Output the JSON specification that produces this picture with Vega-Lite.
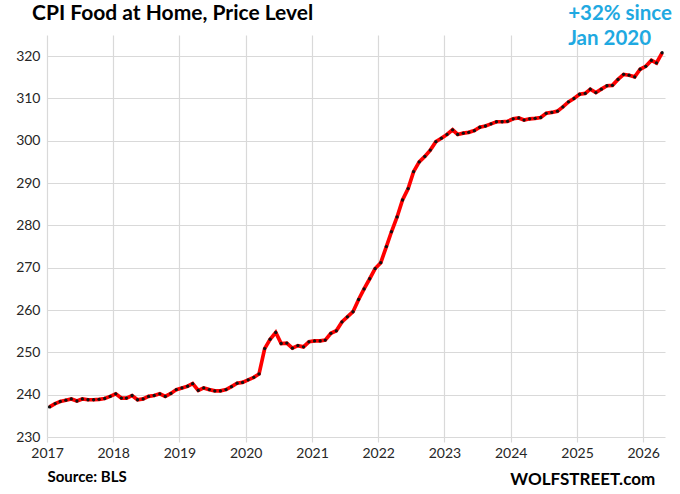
{
  "$schema": "https://vega.github.io/schema/vega-lite/v6.json",
  "width": 618,
  "height": 402,
  "autosize": {"type": "none"},
  "padding": {"left": 47, "top": 35, "right": 15, "bottom": 57},
  "background": "white",
  "config": {"font": "Lato", "view": {"stroke": null}},
  "title": {
    "text": "CPI Food at Home, Price Level",
    "anchor": "start",
    "frame": "group",
    "orient": "top",
    "dx": -15,
    "offset": -20,
    "fontSize": 21,
    "fontWeight": "bold",
    "color": "#000000",
    "font": "Lato"
  },
  "layer": [
    {
      "data": {
        "values": [
          {"date": "2017-01-15", "value": 237.1}, {"date": "2017-02-15", "value": 237.9}, {"date": "2017-03-15", "value": 238.4},
          {"date": "2017-04-15", "value": 238.7}, {"date": "2017-05-15", "value": 239.0}, {"date": "2017-06-15", "value": 238.5},
          {"date": "2017-07-15", "value": 239.0}, {"date": "2017-08-15", "value": 238.8}, {"date": "2017-09-15", "value": 238.8},
          {"date": "2017-10-15", "value": 238.9}, {"date": "2017-11-15", "value": 239.1}, {"date": "2017-12-15", "value": 239.6},
          {"date": "2018-01-15", "value": 240.2}, {"date": "2018-02-15", "value": 239.2}, {"date": "2018-03-15", "value": 239.2},
          {"date": "2018-04-15", "value": 239.8}, {"date": "2018-05-15", "value": 238.8}, {"date": "2018-06-15", "value": 239.0},
          {"date": "2018-07-15", "value": 239.6}, {"date": "2018-08-15", "value": 239.8}, {"date": "2018-09-15", "value": 240.2},
          {"date": "2018-10-15", "value": 239.6}, {"date": "2018-11-15", "value": 240.3}, {"date": "2018-12-15", "value": 241.2},
          {"date": "2019-01-15", "value": 241.6}, {"date": "2019-02-15", "value": 242.0}, {"date": "2019-03-15", "value": 242.6},
          {"date": "2019-04-15", "value": 241.0}, {"date": "2019-05-15", "value": 241.6}, {"date": "2019-06-15", "value": 241.2},
          {"date": "2019-07-15", "value": 240.9}, {"date": "2019-08-15", "value": 240.9}, {"date": "2019-09-15", "value": 241.2},
          {"date": "2019-10-15", "value": 241.9}, {"date": "2019-11-15", "value": 242.7}, {"date": "2019-12-15", "value": 242.9},
          {"date": "2020-01-15", "value": 243.5}, {"date": "2020-02-15", "value": 244.1}, {"date": "2020-03-15", "value": 244.9},
          {"date": "2020-04-15", "value": 250.9}, {"date": "2020-05-15", "value": 253.1}, {"date": "2020-06-15", "value": 254.7},
          {"date": "2020-07-15", "value": 252.1}, {"date": "2020-08-15", "value": 252.2}, {"date": "2020-09-15", "value": 251.0},
          {"date": "2020-10-15", "value": 251.6}, {"date": "2020-11-15", "value": 251.3}, {"date": "2020-12-15", "value": 252.5},
          {"date": "2021-01-15", "value": 252.7}, {"date": "2021-02-15", "value": 252.7}, {"date": "2021-03-15", "value": 252.9},
          {"date": "2021-04-15", "value": 254.5}, {"date": "2021-05-15", "value": 255.1}, {"date": "2021-06-15", "value": 257.2},
          {"date": "2021-07-15", "value": 258.4}, {"date": "2021-08-15", "value": 259.6}, {"date": "2021-09-15", "value": 262.5},
          {"date": "2021-10-15", "value": 265.0}, {"date": "2021-11-15", "value": 267.4}, {"date": "2021-12-15", "value": 269.8},
          {"date": "2022-01-15", "value": 271.2}, {"date": "2022-02-15", "value": 275.0}, {"date": "2022-03-15", "value": 278.5},
          {"date": "2022-04-15", "value": 282.0}, {"date": "2022-05-15", "value": 286.0}, {"date": "2022-06-15", "value": 288.7},
          {"date": "2022-07-15", "value": 292.7}, {"date": "2022-08-15", "value": 295.0}, {"date": "2022-09-15", "value": 296.3},
          {"date": "2022-10-15", "value": 297.8}, {"date": "2022-11-15", "value": 299.8}, {"date": "2022-12-15", "value": 300.6},
          {"date": "2023-01-15", "value": 301.5}, {"date": "2023-02-15", "value": 302.6}, {"date": "2023-03-15", "value": 301.5},
          {"date": "2023-04-15", "value": 301.8}, {"date": "2023-05-15", "value": 302.0}, {"date": "2023-06-15", "value": 302.4},
          {"date": "2023-07-15", "value": 303.2}, {"date": "2023-08-15", "value": 303.5}, {"date": "2023-09-15", "value": 304.0},
          {"date": "2023-10-15", "value": 304.5}, {"date": "2023-11-15", "value": 304.5}, {"date": "2023-12-15", "value": 304.6},
          {"date": "2024-01-15", "value": 305.2}, {"date": "2024-02-15", "value": 305.4}, {"date": "2024-03-15", "value": 304.9},
          {"date": "2024-04-15", "value": 305.2}, {"date": "2024-05-15", "value": 305.3}, {"date": "2024-06-15", "value": 305.5},
          {"date": "2024-07-15", "value": 306.5}, {"date": "2024-08-15", "value": 306.7}, {"date": "2024-09-15", "value": 307.0},
          {"date": "2024-10-15", "value": 308.0}, {"date": "2024-11-15", "value": 309.2}, {"date": "2024-12-15", "value": 310.0},
          {"date": "2025-01-15", "value": 311.0}, {"date": "2025-02-15", "value": 311.2}, {"date": "2025-03-15", "value": 312.2},
          {"date": "2025-04-15", "value": 311.4}, {"date": "2025-05-15", "value": 312.2}, {"date": "2025-06-15", "value": 313.0},
          {"date": "2025-07-15", "value": 313.1}, {"date": "2025-08-15", "value": 314.5}, {"date": "2025-09-15", "value": 315.7},
          {"date": "2025-10-15", "value": 315.5}, {"date": "2025-11-15", "value": 315.1}, {"date": "2025-12-15", "value": 316.9},
          {"date": "2026-01-15", "value": 317.6}, {"date": "2026-02-15", "value": 319.0}, {"date": "2026-03-15", "value": 318.4},
          {"date": "2026-04-15", "value": 320.8}
        ]
      },
      "encoding": {
        "x": {
          "field": "date",
          "type": "temporal",
          "scale": {"domain": [{"year": 2017, "month": 1, "date": 1}, {"year": 2026, "month": 5, "date": 1}]},
          "axis": {
            "format": "%Y",
            "tickCount": {"interval": "year", "step": 1},
            "grid": true,
            "gridColor": "#d9d9d9",
            "gridWidth": 1.2,
            "tickColor": "#d9d9d9",
            "tickWidth": 1.2,
            "tickSize": 5,
            "domain": false,
            "labelFontSize": 14,
            "labelColor": "#262626",
            "labelPadding": 4,
            "labelFlush": false,
            "title": "Source: BLS",
            "titleAnchor": "start",
            "titleAlign": "left",
            "titleFontSize": 15,
            "titleFontWeight": "bold",
            "titleColor": "#000000",
            "titlePadding": 9
          }
        },
        "y": {
          "field": "value",
          "type": "quantitative",
          "scale": {"domain": [230, 325], "nice": false, "zero": false},
          "axis": {
            "values": [230, 240, 250, 260, 270, 280, 290, 300, 310, 320],
            "grid": true,
            "gridColor": "#d9d9d9",
            "gridWidth": 1.2,
            "ticks": false,
            "domain": false,
            "labelFontSize": 14,
            "labelColor": "#262626",
            "labelPadding": 7,
            "title": null
          }
        }
      },
      "layer": [
        {"mark": {"type": "line", "color": "#ff0000", "strokeWidth": 3.7}},
        {"mark": {"type": "point", "filled": true, "color": "#111111", "size": 11, "opacity": 1}}
      ]
    },
    {
      "data": {"values": [{}]},
      "mark": {
        "type": "text",
        "text": ["+32% since", "Jan 2020"],
        "align": "left",
        "baseline": "top",
        "fontSize": 20.5,
        "fontWeight": "bold",
        "color": "#1fa9e1",
        "lineHeight": 25
      },
      "encoding": {
        "x": {"datum": {"year": 2024, "month": 11, "date": 13}, "type": "temporal"},
        "y": {"datum": 332.3}
      }
    },
    {
      "data": {"values": [{}]},
      "mark": {
        "type": "text",
        "text": "WOLFSTREET.com",
        "align": "right",
        "baseline": "middle",
        "fontSize": 17,
        "fontWeight": "bold",
        "color": "#000000"
      },
      "encoding": {
        "x": {"datum": {"year": 2026, "month": 3, "date": 8}, "type": "temporal"},
        "y": {"datum": 219.8}
      }
    }
  ]
}
